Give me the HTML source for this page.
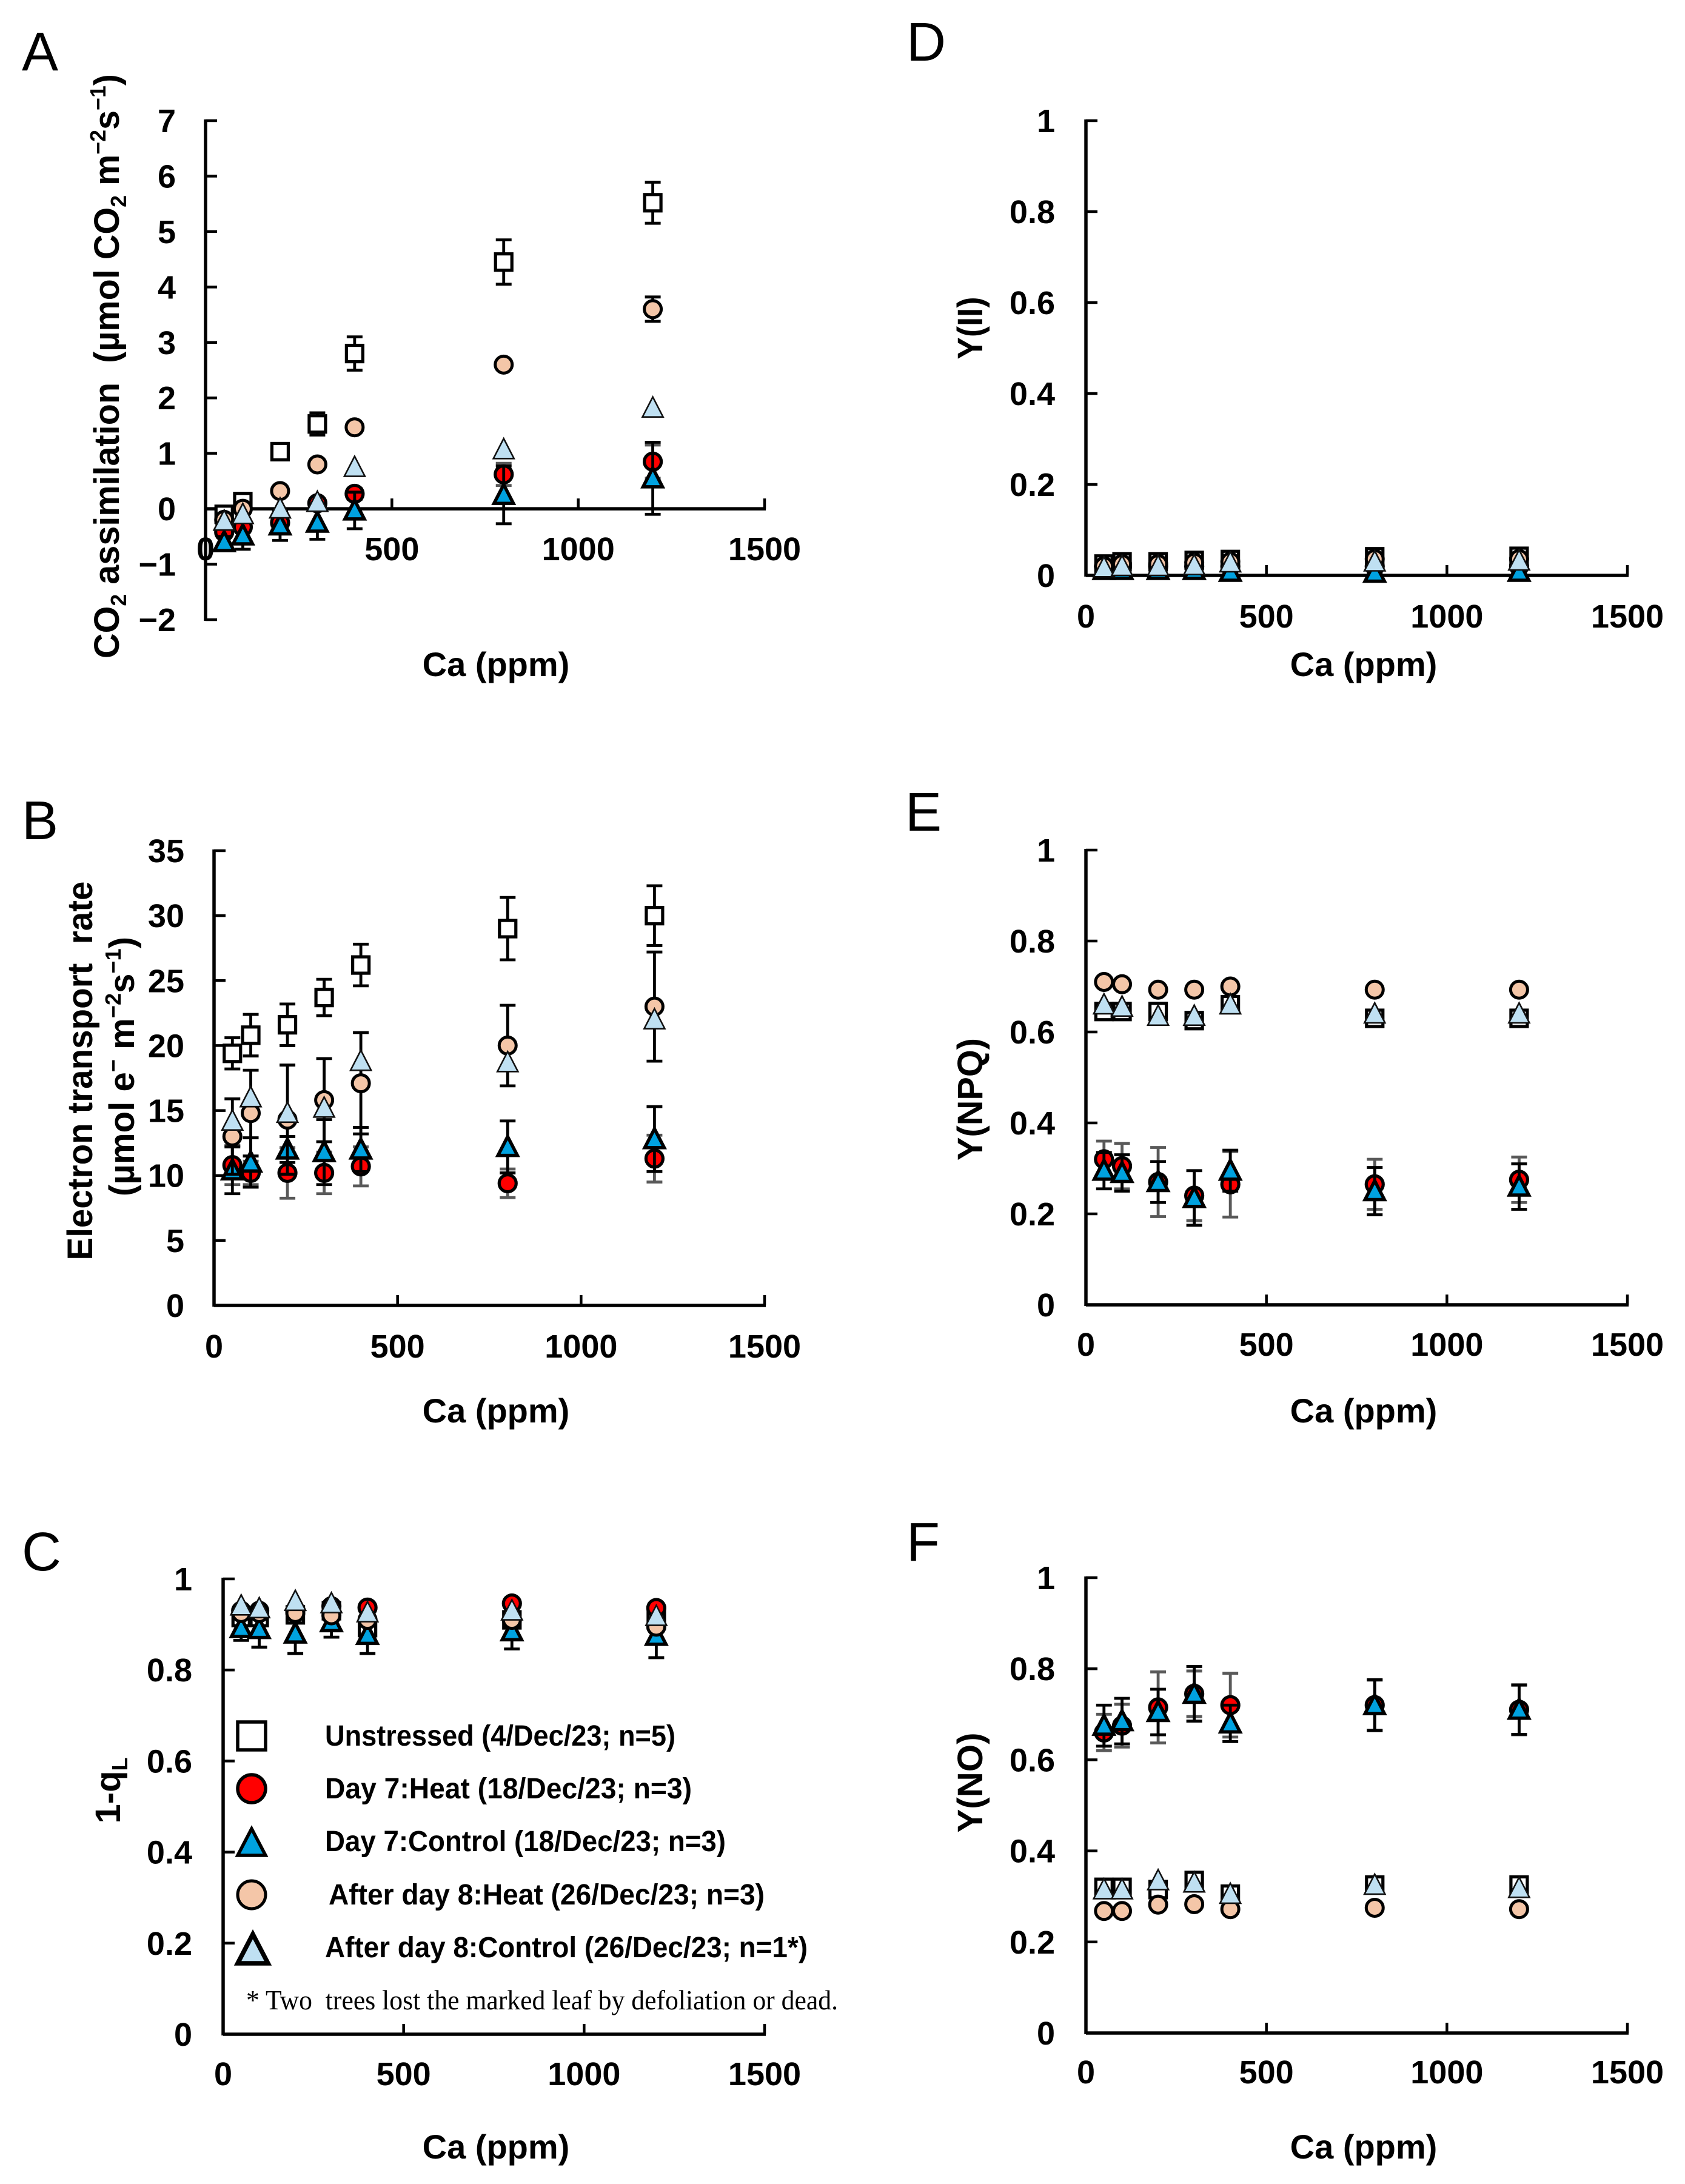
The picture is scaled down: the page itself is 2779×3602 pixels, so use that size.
<!DOCTYPE html>
<html lang="en">
<head>
<meta charset="utf-8">
<title>Photosynthesis response to Ca</title>
<style>
html,body{margin:0;padding:0;background:#fff;}
svg{display:block;}
text{font-family:"Liberation Sans",Arial,sans-serif;fill:#000;white-space:pre;}
.b{font-weight:bold;}
.letter{font-size:90px;}
.title{font-size:58px;font-weight:bold;}
.ca{font-size:56px;font-weight:bold;}
.leg{font-size:48px;font-weight:bold;}
</style>
</head>
<body>
<svg id="figure" xmlns="http://www.w3.org/2000/svg" width="2779" height="3602" viewBox="0 0 2779 3602">
<rect width="2779" height="3602" fill="#fff"/>

<text class="letter" x="36" y="116">A</text>
<text class="letter" x="36" y="1384">B</text>
<text class="letter" x="36" y="2590">C</text>
<text class="letter" x="1495" y="100">D</text>
<text class="letter" x="1493" y="1370">E</text>
<text class="letter" x="1495" y="2574">F</text>

<text class="title" transform="translate(196,604) rotate(-90)" text-anchor="middle" textLength="964" lengthAdjust="spacingAndGlyphs">CO<tspan font-size="36" dy="12">2</tspan><tspan dy="-12"> assimilation  (µmol CO</tspan><tspan font-size="36" dy="12">2</tspan><tspan dy="-12"> m</tspan><tspan font-size="36" dy="-22">−2</tspan><tspan dy="22">s</tspan><tspan font-size="36" dy="-22">−1</tspan><tspan dy="22">)</tspan></text>
<text class="title" transform="translate(152,1766) rotate(-90)" text-anchor="middle" textLength="625" lengthAdjust="spacingAndGlyphs">Electron transport  rate</text>
<text class="title" transform="translate(221,1759) rotate(-90)" text-anchor="middle" textLength="428" lengthAdjust="spacingAndGlyphs">(µmol e<tspan font-size="36" dy="-22">−</tspan><tspan dy="22"> m</tspan><tspan font-size="36" dy="-22">−2</tspan><tspan dy="22">s</tspan><tspan font-size="36" dy="-22">−1</tspan><tspan dy="22">)</tspan></text>
<text class="title" transform="translate(198,2953) rotate(-90)" text-anchor="middle">1-q<tspan font-size="36" dy="12">L</tspan></text>
<text class="title" transform="translate(1620,541) rotate(-90)" text-anchor="middle" textLength="103" lengthAdjust="spacingAndGlyphs">Y(II)</text>
<text class="title" transform="translate(1620,1813) rotate(-90)" text-anchor="middle" textLength="202" lengthAdjust="spacingAndGlyphs">Y(NPQ)</text>
<text class="title" transform="translate(1620,2940) rotate(-90)" text-anchor="middle" textLength="165" lengthAdjust="spacingAndGlyphs">Y(NO)</text>

<text class="ca" x="818" y="1115" text-anchor="middle">Ca (ppm)</text>
<text class="ca" x="818" y="2346" text-anchor="middle">Ca (ppm)</text>
<text class="ca" x="818" y="3560" text-anchor="middle">Ca (ppm)</text>
<text class="ca" x="2249" y="1115" text-anchor="middle">Ca (ppm)</text>
<text class="ca" x="2249" y="2346" text-anchor="middle">Ca (ppm)</text>
<text class="ca" x="2249" y="3560" text-anchor="middle">Ca (ppm)</text>

<g>
  <rect x="392" y="2840" width="46" height="46" fill="#fff" stroke="#000" stroke-width="5.5"/>
  <circle cx="415" cy="2950" r="23" fill="#ff0000" stroke="#000" stroke-width="5.5"/>
  <polygon points="415,3016 392,3060 438,3060" fill="#00a2e0" stroke="#000" stroke-width="5.5"/>
  <circle cx="415" cy="3125" r="23" fill="#f4c6a8" stroke="#000" stroke-width="5"/>
  <polygon points="417,3190 392,3238 442,3238" fill="#bfe0f2" stroke="#000" stroke-width="7.5"/>
  <text class="leg" x="536" y="2879" textLength="578" lengthAdjust="spacingAndGlyphs">Unstressed (4/Dec/23; n=5)</text>
  <text class="leg" x="536" y="2966" textLength="605" lengthAdjust="spacingAndGlyphs">Day 7:Heat (18/Dec/23; n=3)</text>
  <text class="leg" x="536" y="3053" textLength="661" lengthAdjust="spacingAndGlyphs">Day 7:Control (18/Dec/23; n=3)</text>
  <text class="leg" x="542" y="3141" textLength="719" lengthAdjust="spacingAndGlyphs">After day 8:Heat (26/Dec/23; n=3)</text>
  <text class="leg" x="536" y="3228" textLength="796" lengthAdjust="spacingAndGlyphs">After day 8:Control (26/Dec/23; n=1*)</text>
  <text x="406" y="3314" font-size="46" style="font-family:'Liberation Serif',serif" textLength="976" lengthAdjust="spacingAndGlyphs">* Two  trees lost the marked leaf by defoliation or dead.</text>
</g>

<g id="plots"></g>
</svg>

<script>
/* shared x data */
const caValues = [50, 100, 200, 300, 400, 800, 1200];
const xTickValues = [0, 500, 1000, 1500];

/* tick labels */
const yTicksA = [-2, -1, 0, 1, 2, 3, 4, 5, 6, 7];
const yTicksB = [0, 5, 10, 15, 20, 25, 30, 35];
const yTicksYield = [0, 0.2, 0.4, 0.6, 0.8, 1];

/* Panel A: CO2 assimilation */
const aUnstressed = [-0.1, 0.13, 1.03, 1.53, 2.8, 4.45, 5.52];
const aUnstressedErr = [0.05, 0.05, 0.05, 0.2, 0.3, 0.4, 0.37];
const aHeat7 = [-0.42, -0.33, -0.25, 0.1, 0.27, 0.62, 0.85];
const aHeat7Err = [0.1, 0.1, 0.1, 0.05, 0.1, 0.2, 0.3];
const aControl7 = [-0.6, -0.48, -0.3, -0.25, -0.03, 0.25, 0.55];
const aControl7Err = [0.1, 0.25, 0.27, 0.3, 0.33, 0.52, 0.65];
const aHeat8 = [-0.2, 0, 0.32, 0.8, 1.47, 2.6, 3.6];
const aHeat8Err = [0.02, 0.02, 0.03, 0.03, 0.03, 0.03, 0.22];
const aControl8 = [-0.22, -0.1, 0, 0.12, 0.75, 1.07, 1.82];
const aControl8Err = [0, 0, 0, 0, 0, 0, 0];

/* Panel B: electron transport rate */
const bUnstressed = [19.4, 20.8, 21.6, 23.7, 26.2, 29, 30];
const bUnstressedErr = [1.2, 1.6, 1.6, 1.4, 1.6, 2.4, 2.3];
const bHeat7 = [10.8, 10.2, 10.2, 10.2, 10.7, 9.4, 11.3];
const bHeat7Err = [1.5, 0.9, 1.95, 1.6, 1.5, 1.1, 1.8];
const bControl7 = [10.4, 11, 12, 11.8, 12, 12.2, 12.8];
const bControl7Err = [1.8, 1.9, 1, 2.5, 1.7, 2, 2.5];
const bHeat8 = [13, 14.8, 14.3, 15.8, 17.1, 20, 23];
const bHeat8Err = [2.9, 3.3, 4.2, 3.2, 3.9, 3.1, 4.2];
const bControl8 = [14.2, 16, 14.8, 15.2, 18.8, 18.7, 22];
const bControl8Err = [0, 0, 0, 0, 0, 0, 0];

/* Panel C: 1-qL */
const cUnstressed = [0.915, 0.915, 0.921, 0.93, 0.893, 0.91, 0.91];
const cUnstressedErr = [0.005, 0.005, 0.005, 0.005, 0.005, 0.005, 0.005];
const cHeat7 = [0.93, 0.93, 0.93, 0.94, 0.937, 0.946, 0.936];
const cHeat7Err = [0.005, 0.005, 0.005, 0.005, 0.005, 0.005, 0.005];
const cControl7 = [0.892, 0.89, 0.88, 0.905, 0.877, 0.885, 0.875];
const cControl7Err = [0.027, 0.04, 0.044, 0.033, 0.041, 0.039, 0.048];
const cHeat8 = [0.925, 0.925, 0.925, 0.92, 0.91, 0.91, 0.895];
const cHeat8Err = [0, 0, 0, 0, 0, 0, 0];
const cControl8 = [0.941, 0.935, 0.951, 0.946, 0.926, 0.93, 0.918];
const cControl8Err = [0, 0, 0, 0, 0, 0, 0];

/* Panel D: Y(II) */
const dUnstressed = [0.025, 0.03, 0.03, 0.033, 0.035, 0.041, 0.042];
const dUnstressedErr = [0.004, 0.004, 0.004, 0.004, 0.004, 0.004, 0.004];
const dHeat7 = [0.02, 0.02, 0.02, 0.02, 0.02, 0.02, 0.02];
const dHeat7Err = [0, 0, 0, 0, 0, 0, 0];
const dControl7 = [0.012, 0.012, 0.012, 0.012, 0.008, 0.006, 0.008];
const dControl7Err = [0.003, 0.003, 0.003, 0.003, 0.003, 0.003, 0.003];
const dHeat8 = [0.02, 0.025, 0.025, 0.028, 0.03, 0.036, 0.036];
const dHeat8Err = [0, 0, 0, 0, 0, 0, 0];
const dControl8 = [0.017, 0.02, 0.02, 0.022, 0.028, 0.03, 0.032];
const dControl8Err = [0, 0, 0, 0, 0, 0, 0];

/* Panel E: Y(NPQ) */
const eUnstressed = [0.645, 0.645, 0.645, 0.625, 0.66, 0.63, 0.63];
const eUnstressedErr = [0.005, 0.005, 0.01, 0.005, 0.005, 0.005, 0.005];
const eHeat7 = [0.32, 0.305, 0.27, 0.24, 0.265, 0.265, 0.275];
const eHeat7Err = [0.04, 0.05, 0.076, 0.055, 0.072, 0.055, 0.05];
const eControl7 = [0.295, 0.29, 0.27, 0.235, 0.295, 0.25, 0.26];
const eControl7Err = [0.04, 0.04, 0.045, 0.06, 0.045, 0.052, 0.05];
const eHeat8 = [0.71, 0.705, 0.693, 0.693, 0.7, 0.693, 0.693];
const eHeat8Err = [0, 0, 0, 0, 0, 0, 0];
const eControl8 = [0.66, 0.655, 0.635, 0.635, 0.66, 0.64, 0.64];
const eControl8Err = [0, 0, 0, 0, 0, 0, 0];

/* Panel F: Y(NO) */
const fUnstressed = [0.32, 0.32, 0.315, 0.335, 0.305, 0.325, 0.325];
const fUnstressedErr = [0.005, 0.005, 0.005, 0.005, 0.005, 0.005, 0.005];
const fHeat7 = [0.66, 0.675, 0.715, 0.745, 0.72, 0.72, 0.71];
const fHeat7Err = [0.04, 0.047, 0.078, 0.05, 0.07, 0.055, 0.055];
const fControl7 = [0.675, 0.685, 0.705, 0.745, 0.68, 0.72, 0.71];
const fControl7Err = [0.045, 0.05, 0.05, 0.06, 0.04, 0.056, 0.054];
const fHeat8 = [0.268, 0.268, 0.282, 0.283, 0.272, 0.275, 0.272];
const fHeat8Err = [0, 0, 0, 0, 0, 0, 0];
const fControl8 = [0.315, 0.315, 0.335, 0.33, 0.305, 0.325, 0.318];
const fControl8Err = [0, 0, 0, 0, 0, 0, 0];

const SVGNS = 'http://www.w3.org/2000/svg';
const plots = document.getElementById('plots');

function make(parent, tag, attrs) {
  const el = document.createElementNS(SVGNS, tag);
  for (const k in attrs) el.setAttribute(k, attrs[k]);
  parent.appendChild(el);
  return el;
}

function drawErrorBar(g, cx, yHigh, yLow, color, name) {
  const bar = make(g, 'path', {
    d: 'M' + cx + ' ' + yHigh + 'V' + yLow +
       'M' + (cx - 13) + ' ' + yHigh + 'H' + (cx + 13) +
       'M' + (cx - 13) + ' ' + yLow + 'H' + (cx + 13),
    fill: 'none', stroke: color, 'stroke-width': 4.8
  });
  
  
}

function drawMarker(g, kind, cx, cy, name) {
  let m;
  if (kind === 'square') {
    m = make(g, 'rect', { x: cx - 13.5, y: cy - 13.5, width: 27, height: 27, fill: '#fff', stroke: '#000', 'stroke-width': 5.2 });
  } else if (kind === 'red') {
    m = make(g, 'circle', { cx: cx, cy: cy, r: 14, fill: '#ff0000', stroke: '#000', 'stroke-width': 5.2 });
  } else if (kind === 'peach') {
    m = make(g, 'circle', { cx: cx, cy: cy, r: 14, fill: '#f4c6a8', stroke: '#000', 'stroke-width': 5 });
  } else if (kind === 'blue') {
    m = make(g, 'polygon', { points: cx + ',' + (cy - 17) + ' ' + (cx - 16) + ',' + (cy + 14) + ' ' + (cx + 16) + ',' + (cy + 14), fill: '#00a2e0', stroke: '#000', 'stroke-width': 5.5 });
  } else {
    m = make(g, 'polygon', { points: cx + ',' + (cy - 18) + ' ' + (cx - 17) + ',' + (cy + 15) + ' ' + (cx + 17) + ',' + (cy + 15), fill: '#bfe0f2', stroke: '#111', 'stroke-width': 2.6 });
  }
  
  
}

function drawPanel(p) {
  const x = v => p.left + v / 1500 * (p.right - p.left);
  const y = v => p.yBase + (v - p.yMin) / (p.yMax - p.yMin) * (p.yTop - p.yBase);
  const g = make(plots, 'g', {});
  
  
  const x0Line = y(p.xAxisAt);

  const xAxis = make(g, 'line', { x1: p.left, x2: p.right + 2, y1: x0Line, y2: x0Line, stroke: '#000', 'stroke-width': 5.5 });
  
  
  const yAxis = make(g, 'line', { x1: p.left, x2: p.left, y1: p.yTop - 2, y2: p.yBase + 2, stroke: '#000', 'stroke-width': 5.5 });
  
  

  xTickValues.forEach(v => {
    if (v > 0) {
      const t = make(g, 'line', { x1: x(v), x2: x(v), y1: x0Line, y2: x0Line - 17, stroke: '#000', 'stroke-width': 4.5 });
      
      
    }
    const lab = make(g, 'text', { x: x(v), y: p.xLabelY + 19, 'text-anchor': 'middle', 'font-size': 54, 'font-weight': 'bold' });
    
    
    lab.textContent = String(v);
  });

  p.yTicks.forEach(v => {
    const t = make(g, 'line', { x1: p.left, x2: p.left + 19, y1: y(v), y2: y(v), stroke: '#000', 'stroke-width': 4.5 });
    
    
    const lab = make(g, 'text', { x: p.yLabelRight, y: y(v) + 19, 'text-anchor': 'end', 'font-size': 54, 'font-weight': 'bold' });
    
    
    lab.textContent = String(v).replace('-', '\u2212');
  });

  p.series.forEach(s => {
    const sg = make(g, 'g', {});
    
    
    caValues.forEach((c, i) => {
      const v = s.values[i], e = s.errors[i];
      if (e > 0) drawErrorBar(sg, x(c), y(v + e), y(v - e), s.kind === 'red' ? '#595959' : '#000', s.kind + '-' + c);
      drawMarker(sg, s.kind, x(c), y(v), s.kind + '-' + c);
    });
  });
}

function seriesOf(u, ue, r, re, b, be, h, he, l, le) {
  return [
    { kind: 'square', values: u, errors: ue },
    { kind: 'red', values: r, errors: re },
    { kind: 'blue', values: b, errors: be },
    { kind: 'peach', values: h, errors: he },
    { kind: 'light', values: l, errors: le }
  ];
}

drawPanel({ id: 'a', left: 339, right: 1261, yTop: 199, yBase: 1022, yMin: -2, yMax: 7, xAxisAt: 0, xLabelY: 905, yLabelRight: 290, yTicks: yTicksA,
  series: seriesOf(aUnstressed, aUnstressedErr, aHeat7, aHeat7Err, aControl7, aControl7Err, aHeat8, aHeat8Err, aControl8, aControl8Err) });
drawPanel({ id: 'b', left: 353, right: 1261, yTop: 1403, yBase: 2153, yMin: 0, yMax: 35, xAxisAt: 0, xLabelY: 2220, yLabelRight: 304, yTicks: yTicksB,
  series: seriesOf(bUnstressed, bUnstressedErr, bHeat7, bHeat7Err, bControl7, bControl7Err, bHeat8, bHeat8Err, bControl8, bControl8Err) });
drawPanel({ id: 'c', left: 368, right: 1261, yTop: 2604, yBase: 3355, yMin: 0, yMax: 1, xAxisAt: 0, xLabelY: 3420, yLabelRight: 317, yTicks: yTicksYield,
  series: seriesOf(cUnstressed, cUnstressedErr, cHeat7, cHeat7Err, cControl7, cControl7Err, cHeat8, cHeat8Err, cControl8, cControl8Err) });
drawPanel({ id: 'd', left: 1791, right: 2684, yTop: 199, yBase: 949, yMin: 0, yMax: 1, xAxisAt: 0, xLabelY: 1016, yLabelRight: 1740, yTicks: yTicksYield,
  series: seriesOf(dUnstressed, dUnstressedErr, dHeat7, dHeat7Err, dControl7, dControl7Err, dHeat8, dHeat8Err, dControl8, dControl8Err) });
drawPanel({ id: 'e', left: 1791, right: 2684, yTop: 1402, yBase: 2152, yMin: 0, yMax: 1, xAxisAt: 0, xLabelY: 2217, yLabelRight: 1740, yTicks: yTicksYield,
  series: seriesOf(eUnstressed, eUnstressedErr, eHeat7, eHeat7Err, eControl7, eControl7Err, eHeat8, eHeat8Err, eControl8, eControl8Err) });
drawPanel({ id: 'f', left: 1791, right: 2684, yTop: 2602, yBase: 3353, yMin: 0, yMax: 1, xAxisAt: 0, xLabelY: 3417, yLabelRight: 1740, yTicks: yTicksYield,
  series: seriesOf(fUnstressed, fUnstressedErr, fHeat7, fHeat7Err, fControl7, fControl7Err, fHeat8, fHeat8Err, fControl8, fControl8Err) });
</script>
</body>
</html>
